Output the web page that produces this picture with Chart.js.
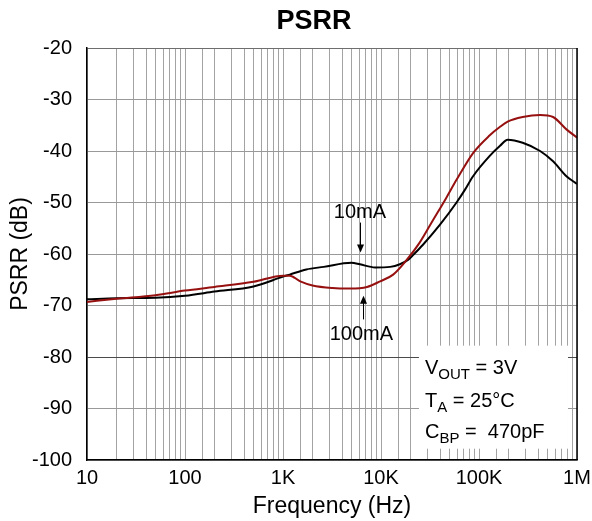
<!DOCTYPE html>
<html>
<head>
<meta charset="utf-8">
<script src="https://cdn.jsdelivr.net/npm/chart.js@4"></script>
<style>
  html, body { margin: 0; padding: 0; background: #fff; }
  #wrap { width: 592px; height: 521px; }
</style>
</head>
<body>
<div id="wrap"><canvas id="psrr" width="592" height="521"></canvas></div>
<script>
// frequences (Hz) et valeurs
const freq10mA = [10, 20, 50, 100, 200, 500, 1000, 1170, 1730, 2600, 5000, 6100, 8700, 12400, 15600, 19000, 21500, 26800, 40000, 59000, 72000, 87000, 128000, 164000, 196000, 279000, 420000, 570000, 780000, 1000000];
const psrr10mA = [-68.8, -68.6, -68.5, -68.1, -67.3, -66.3, -64.4, -64.0, -63.0, -62.5, -61.7, -62.0, -62.6, -62.5, -62.0, -61.1, -60.1, -58.2, -54.3, -50.0, -47.5, -44.9, -41.0, -39.0, -37.8, -38.4, -40.0, -42.0, -44.9, -46.4];

const freq100mA = [10, 20, 50, 100, 200, 500, 1000, 1170, 1500, 2000, 3200, 4800, 7200, 9800, 13300, 18200, 24800, 34000, 46000, 59000, 87000, 128000, 164000, 196000, 279000, 420000, 570000, 780000, 1000000];
const psrr100mA = [-69.3, -68.7, -68.0, -67.1, -66.4, -65.4, -64.2, -64.2, -65.3, -66.1, -66.6, -66.7, -66.4, -65.3, -64.0, -61.2, -57.8, -53.4, -49.2, -45.6, -40.4, -37.0, -35.3, -34.3, -33.4, -33.0, -33.4, -35.8, -37.4];

const xTickValues = [10, 100, 1000, 10000, 100000, 1000000];
const xTickLabels = ['10', '100', '1K', '10K', '100K', '1M'];

const FONT = '"Liberation Sans", Arial, sans-serif';

function toPoints(xs, ys) {
    return xs.map((x, i) => ({ x: x, y: ys[i] }));
}

// titre, encadre des conditions et fleches
const decorPlugin = {
    id: 'decor',
    beforeDatasetsDraw(chart) {
        const ctx = chart.ctx;
        const xs = chart.scales.x, ys = chart.scales.y;
        // fond blanc de l'encadre
        const x0 = xs.getPixelForValue(24400), x1 = xs.getPixelForValue(809000);
        const y0 = ys.getPixelForValue(-77.8), y1 = ys.getPixelForValue(-97.8);
        ctx.save();
        ctx.fillStyle = '#ffffff';
        ctx.fillRect(x0, y0, x1 - x0, y1 - y0);
        ctx.restore();
    },
    afterDraw(chart) {
        const ctx = chart.ctx;
        const xs = chart.scales.x, ys = chart.scales.y;
        const area = chart.chartArea;
        ctx.save();

        // bord droit
        ctx.strokeStyle = '#000';
        ctx.lineWidth = 1.5;
        ctx.beginPath();
        ctx.moveTo(area.right, area.top);
        ctx.lineTo(area.right, area.bottom);
        ctx.stroke();

        // titre
        ctx.fillStyle = '#000';
        ctx.font = 'bold 27px ' + FONT;
        ctx.textAlign = 'center';
        ctx.textBaseline = 'middle';
        ctx.fillText('PSRR', 314, 22);

        // etiquettes 10mA / 100mA
        ctx.font = '20px ' + FONT;
        ctx.fillText('10mA', xs.getPixelForValue(6100), ys.getPixelForValue(-52.0));
        ctx.fillText('100mA', xs.getPixelForValue(6300), ys.getPixelForValue(-75.6));

        function arrow(f, yFrom, yTo) {
            const x = Math.round(xs.getPixelForValue(f)) + 0.5;
            const a = ys.getPixelForValue(yFrom), b = ys.getPixelForValue(yTo);
            const dir = b > a ? 1 : -1;
            ctx.strokeStyle = '#000';
            ctx.lineWidth = 1;
            ctx.beginPath();
            ctx.moveTo(x, a);
            ctx.lineTo(x, b - dir * 6);
            ctx.stroke();
            ctx.beginPath();
            ctx.moveTo(x, b);
            ctx.lineTo(x - 3.5, b - dir * 8);
            ctx.lineTo(x + 3.5, b - dir * 8);
            ctx.closePath();
            ctx.fill();
        }
        arrow(6100, -53.9, -59.7);
        arrow(6500, -72.7, -68.1);

        // conditions de mesure
        function subText(x, y, main, sub, rest) {
            ctx.textAlign = 'left';
            ctx.textBaseline = 'alphabetic';
            ctx.font = '20px ' + FONT;
            ctx.fillText(main, x, y);
            x += ctx.measureText(main).width;
            ctx.font = '15px ' + FONT;
            ctx.fillText(sub, x, y + 5);
            x += ctx.measureText(sub).width;
            ctx.font = '20px ' + FONT;
            ctx.fillText(rest, x, y);
        }
        subText(425, 374, 'V', 'OUT', ' = 3V');
        subText(425, 407, 'T', 'A', ' = 25\u00B0C');
        subText(425, 438, 'C', 'BP', ' =  470pF');

        ctx.restore();
    }
};

const ctx = document.getElementById('psrr').getContext('2d');

new Chart(ctx, {
    type: 'line',
    data: {
        datasets: [{
            label: '100mA',
            data: toPoints(freq100mA, psrr100mA),
            borderColor: '#961010',
            borderWidth: 2,
            pointRadius: 0,
            fill: false,
            cubicInterpolationMode: 'monotone'
        }, {
            label: '10mA',
            data: toPoints(freq10mA, psrr10mA),
            borderColor: '#000000',
            borderWidth: 2,
            pointRadius: 0,
            fill: false,
            cubicInterpolationMode: 'monotone'
        }]
    },
    options: {
        responsive: false,
        animation: false,
        layout: {
            padding: { left: 0, right: 15, top: 48, bottom: 0 }
        },
        plugins: {
            legend: { display: false },
            title: { display: false },
            tooltip: { enabled: false }
        },
        scales: {
            x: {
                type: 'logarithmic',
                min: 10,
                max: 1000000,
                afterFit: function(scale) {
                    scale.height = 61;
                    scale.paddingLeft = 0;
                    scale.paddingRight = 0;
                },
                grid: {
                    color: '#a3a3a3',
                    lineWidth: 1,
                    drawTicks: false
                },
                border: { display: true, color: '#000', width: 1.5 },
                ticks: {
                    autoSkip: false,
                    maxRotation: 0,
                    padding: 6,
                    color: '#000',
                    font: { family: FONT, size: 20 },
                    callback: function(value) {
                        const idx = xTickValues.findIndex(v => Math.abs(Math.log10(v) - Math.log10(value)) < 1e-6);
                        return idx >= 0 ? xTickLabels[idx] : '';
                    }
                },
                title: {
                    display: true,
                    text: 'Frequency (Hz)',
                    color: '#000',
                    font: { family: FONT, size: 23 },
                    padding: { top: 0, bottom: 1 }
                }
            },
            y: {
                min: -100,
                max: -20,
                afterFit: function(scale) {
                    scale.width = 87;
                    scale.paddingTop = 0;
                    scale.paddingBottom = 0;
                },
                grid: {
                    drawTicks: false,
                    lineWidth: 1,
                    color: function(c) {
                        if (c.tick && c.tick.value === -80) return '#4a4a4a';
                        if (c.tick && c.tick.value === -20) return '#6e6e6e';
                        return '#999999';
                    }
                },
                border: { display: true, color: '#000', width: 1.5 },
                ticks: {
                    stepSize: 10,
                    padding: 15,
                    color: '#000',
                    font: { family: FONT, size: 20 }
                },
                title: {
                    display: true,
                    text: 'PSRR (dB)',
                    color: '#000',
                    font: { family: FONT, size: 23 },
                    padding: { top: 7, bottom: 0 }
                }
            }
        }
    },
    plugins: [decorPlugin]
});
</script>
</body>
</html>
